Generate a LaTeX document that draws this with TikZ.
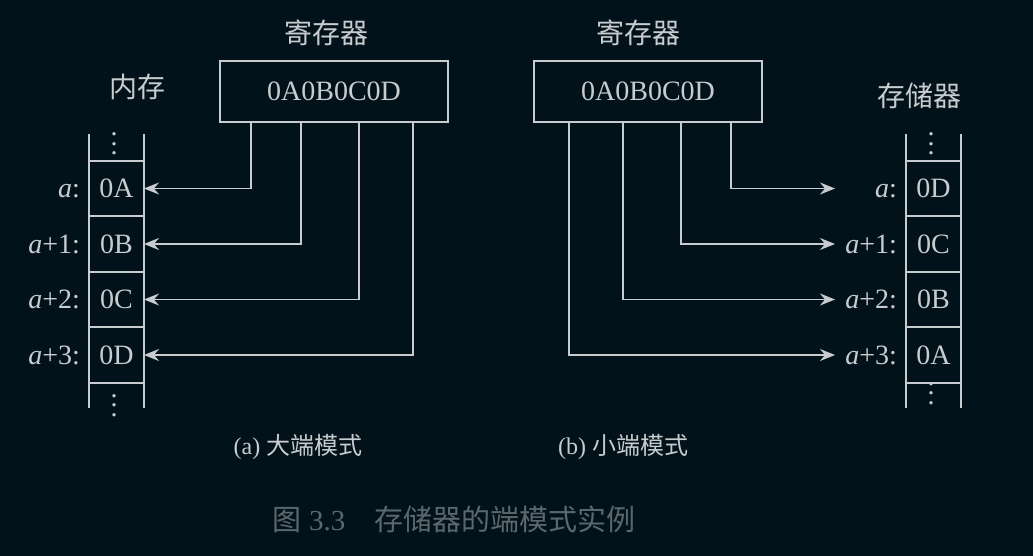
\documentclass[tikz,border=0pt]{standalone}
\usepackage{fontspec}
\setmainfont{Liberation Serif}
\newfontfamily\cjk{Noto Sans CJK SC}
\usetikzlibrary{arrows.meta,positioning}
\definecolor{bgcol}{HTML}{02121B}
\definecolor{fgcol}{HTML}{C8CCCE}
\definecolor{capcol}{HTML}{5C676D}
\newcommand{\memvdots}{\vbox{\baselineskip=4.75pt\lineskiplimit=0pt\hbox{.}\hbox{.}\hbox{.}}}

\begin{document}
\begin{tikzpicture}[x=0.5pt, y=-0.5pt, color=fgcol,
    font=\fontsize{14pt}{17pt}\selectfont,
    regbox/.style={draw, line width=0.9pt, minimum width=114pt, minimum height=30.5pt, inner sep=0pt, outer sep=0pt},
    cellbox/.style={draw, line width=0.9pt, minimum width=27.5pt, minimum height=27.75pt, inner sep=0pt, outer sep=0pt, text height=9.3pt, text depth=0pt},
    addrlabel/.style={inner sep=0pt, outer sep=0pt, text height=9.3pt, text depth=0pt},
    memdots/.style={anchor=base, inner sep=0pt},
    wire/.style={line width=0.9pt, -{Stealth[length=7.5pt, width=6pt, inset=2.5pt]}}]
  \fill[bgcol] (0,0) rectangle (1033,556);
  \useasboundingbox (0,0) rectangle (1033,556);

  % (a) big endian
  \node[regbox] (regBig) at (334,91.5) {0A0B0C0D};
  \node (regBigTitle) at (326,33) {\cjk 寄存器};
  \node (memTitle) at (137,87) {\cjk 内存};
  \node[cellbox] (bigA) at (116.5,188.5) {0A};
  \node[cellbox, below=0pt of bigA] (bigB) {0B};
  \node[cellbox, below=0pt of bigB] (bigC) {0C};
  \node[cellbox, below=0pt of bigC] (bigD) {0D};
  \draw[line width=0.9pt] (bigA.north west) -- ++(0,-27) (bigA.north east) -- ++(0,-27);
  \draw[line width=0.9pt] (bigD.south west) -- ++(0,25) (bigD.south east) -- ++(0,25);
  \node[memdots] (bigTopDots) at (114,155) {\memvdots};
  \node[memdots] (bigBotDots) at (114,416) {\memvdots};
  \node[addrlabel, left=4.5pt of bigA] (adrBigA) {\textit{a}:};
  \node[addrlabel, left=4.5pt of bigB] (adrBigB) {\textit{a}+1:};
  \node[addrlabel, left=4.5pt of bigC] (adrBigC) {\textit{a}+2:};
  \node[addrlabel, left=4.5pt of bigD] (adrBigD) {\textit{a}+3:};
  \draw[wire] ([xshift=15.5pt]regBig.south west) |- (bigA.east);
  \draw[wire] ([xshift=40.5pt]regBig.south west) |- (bigB.east);
  \draw[wire] ([xshift=69.5pt]regBig.south west) |- (bigC.east);
  \draw[wire] ([xshift=96.5pt]regBig.south west) |- (bigD.east);
  \node (capBig) at (298,447) {\fontsize{12pt}{14pt}\selectfont (a) {\cjk 大端模式}};

  % (b) little endian
  \node[regbox] (regLittle) at (648,91.5) {0A0B0C0D};
  \node (regLittleTitle) at (638,33) {\cjk 寄存器};
  \node (storeTitle) at (919,96) {\cjk 存储器};
  \node[cellbox] (litA) at (933.5,188.5) {0D};
  \node[cellbox, below=0pt of litA] (litB) {0C};
  \node[cellbox, below=0pt of litB] (litC) {0B};
  \node[cellbox, below=0pt of litC] (litD) {0A};
  \draw[line width=0.9pt] (litA.north west) -- ++(0,-27) (litA.north east) -- ++(0,-27);
  \draw[line width=0.9pt] (litD.south west) -- ++(0,25) (litD.south east) -- ++(0,25);
  \node[memdots] (litTopDots) at (931,155) {\memvdots};
  \node[memdots] (litBotDots) at (931,404) {\memvdots};
  \node[addrlabel, left=4.5pt of litA] (adrLitA) {\textit{a}:};
  \node[addrlabel, left=4.5pt of litB] (adrLitB) {\textit{a}+1:};
  \node[addrlabel, left=4.5pt of litC] (adrLitC) {\textit{a}+2:};
  \node[addrlabel, left=4.5pt of litD] (adrLitD) {\textit{a}+3:};
  \draw[wire] ([xshift=98.5pt]regLittle.south west) |- ([xshift=-35.5pt]litA.west);
  \draw[wire] ([xshift=73.5pt]regLittle.south west) |- ([xshift=-35.5pt]litB.west);
  \draw[wire] ([xshift=44.5pt]regLittle.south west) |- ([xshift=-35.5pt]litC.west);
  \draw[wire] ([xshift=17.5pt]regLittle.south west) |- ([xshift=-35.5pt]litD.west);
  \node (capLittle) at (623,447) {\fontsize{12pt}{14pt}\selectfont (b) {\cjk 小端模式}};

  \node[text=capcol] (figCap) at (454,519) {\fontsize{14.5pt}{17pt}\selectfont {\cjk 图} 3.3\quad{\cjk 存储器的端模式实例}};
\end{tikzpicture}
\end{document}
